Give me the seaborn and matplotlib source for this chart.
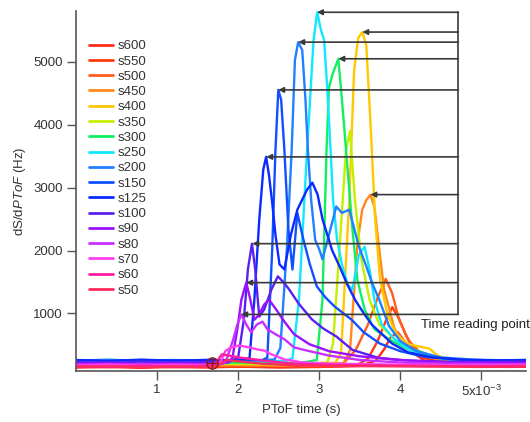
import numpy as np
import pandas as pd
import matplotlib
matplotlib.use("Agg")
import matplotlib.pyplot as plt
from matplotlib.lines import Line2D
import seaborn as sns

# series names, legend order (top -> bottom)
series = ['s600', 's550', 's500', 's450', 's400', 's350', 's300', 's250', 's200',
          's150', 's125', 's100', 's90', 's80', 's70', 's60', 's50']
colors = ['#ff2a1a', '#ff3c10', '#ff5c20', '#ff8a1a', '#ffc800', '#c4f000', '#10f060',
          '#10e8ff', '#2080ff', '#1050ff', '#0a2aff', '#5a20f0', '#9a10ff', '#c830ff',
          '#ff40f0', '#ff1aa0', '#ff2a60']

# PToF time in units of 1e-3 s, dS/dPToF in Hz
s600_t = [0, 0.4, 0.8, 1.2, 1.6, 2.0, 2.5, 3.0, 3.5, 3.7, 3.8, 3.88, 3.97, 4.05, 4.15, 4.3, 4.6, 5.0, 5.3, 5.55]
s600_v = [140, 150, 135, 150, 140, 155, 140, 150, 165, 250, 430, 620, 700, 560, 380, 250, 180, 160, 150, 155]

s550_t = [0, 0.4, 0.8, 1.2, 1.6, 2.0, 2.5, 3.0, 3.45, 3.6, 3.72, 3.82, 3.9, 3.98, 4.06, 4.16, 4.3, 4.5, 4.8, 5.2, 5.55]
s550_v = [155, 145, 160, 145, 155, 150, 160, 150, 170, 280, 560, 880, 1100, 930, 680, 440, 290, 220, 185, 170, 165]

s500_t = [0, 0.4, 0.8, 1.2, 1.6, 2.0, 2.5, 3.0, 3.3, 3.45, 3.6, 3.72, 3.82, 3.9, 3.98, 4.1, 4.25, 4.45, 4.7, 5.1, 5.55]
s500_v = [165, 175, 160, 170, 160, 175, 165, 170, 210, 420, 820, 1250, 1550, 1320, 920, 570, 370, 270, 215, 190, 185]

s450_t = [0, 0.4, 0.8, 1.2, 1.6, 2.0, 2.5, 3.0, 3.3, 3.38, 3.47, 3.53, 3.58, 3.63, 3.68, 3.74, 3.8,
          3.93, 4.1, 4.3, 4.5, 4.8, 5.2, 5.55]
s450_v = [175, 185, 170, 185, 175, 180, 170, 185, 210, 420, 2100, 2650, 2800, 2890, 2700, 2020, 1380,
          750, 450, 330, 260, 220, 200, 195]

s400_t = [0, 0.4, 0.8, 1.2, 1.6, 2.0, 2.5, 2.9, 3.2, 3.27, 3.37, 3.43, 3.48, 3.53, 3.58, 3.63, 3.69,
          3.75, 3.84, 3.95, 4.1, 4.25, 4.36, 4.46, 4.6, 4.9, 5.3, 5.55]
s400_v = [190, 200, 185, 200, 190, 195, 185, 200, 215, 380, 2800, 4870, 5380, 5475, 5270, 4080, 2490,
          1540, 985, 670, 510, 470, 440, 330, 270, 230, 210, 205]

s350_t = [0, 0.4, 0.8, 1.2, 1.6, 2.0, 2.5, 2.9, 3.1, 3.17, 3.25, 3.33, 3.38, 3.44, 3.52, 3.62, 3.74,
          3.93, 4.1, 4.3, 4.5, 4.8, 5.2, 5.55]
s350_v = [200, 210, 195, 210, 200, 205, 195, 210, 220, 520, 2020, 3600, 3900, 2800, 1860, 1220, 825,
          590, 430, 360, 280, 230, 215, 210]

s300_t = [0, 0.4, 0.8, 1.2, 1.6, 2.0, 2.5, 2.8, 2.97, 3.04, 3.09, 3.12, 3.16, 3.235, 3.28, 3.35, 3.41,
          3.47, 3.56, 3.68, 3.86, 4.05, 4.23, 4.45, 4.8, 5.2, 5.55]
s300_v = [215, 225, 210, 225, 215, 220, 210, 220, 260, 1220, 3600, 4590, 4790, 5050, 4400, 3290, 2330,
          1540, 1060, 750, 590, 460, 400, 300, 240, 225, 220]

s250_t = [0, 0.4, 0.8, 1.2, 1.6, 2.0, 2.4, 2.6, 2.67, 2.75, 2.85, 2.93, 2.975, 3.02, 3.06, 3.1, 3.14,
          3.17, 3.22, 3.28, 3.35, 3.41, 3.49, 3.56, 3.62, 3.68, 3.77, 3.93, 4.1, 4.3, 4.6, 5.0, 5.55]
s250_v = [235, 250, 230, 245, 235, 250, 240, 250, 290, 1220, 3600, 5350, 5790, 5510, 5350, 4555, 3600,
          2810, 2170, 1780, 1460, 1380, 1940, 2060, 1700, 1220, 825, 590, 430, 330, 270, 250, 245]

s200_t = [0, 0.4, 0.8, 1.2, 1.6, 2.0, 2.3, 2.45, 2.52, 2.6, 2.66, 2.7, 2.74, 2.79, 2.83, 2.86, 2.9,
          2.95, 3.0, 3.04, 3.13, 3.21, 3.28, 3.37, 3.49, 3.58, 3.65, 3.74, 3.86, 4.0, 4.2, 4.5, 4.9, 5.3, 5.55]
s200_v = [250, 265, 245, 260, 250, 265, 255, 270, 450, 2020, 3600, 5030, 5315, 5190, 4400, 3600, 2810,
          2170, 2020, 1860, 2300, 2700, 2600, 2650, 2060, 1750, 1490, 1220, 800, 560, 400, 300, 265, 255, 260]

s150_t = [0, 0.4, 0.8, 1.2, 1.6, 2.0, 2.3, 2.36, 2.42, 2.46, 2.495, 2.53, 2.57, 2.62, 2.67, 2.73, 2.8,
          2.88, 2.97, 3.08, 3.19, 3.3, 3.4, 3.55, 3.75, 4.0, 4.3, 4.7, 5.1, 5.55]
s150_v = [255, 240, 260, 245, 260, 250, 260, 300, 2020, 3600, 4555, 4400, 3600, 2330, 1700, 2600, 2200,
          1800, 1430, 1250, 1110, 1000, 900, 700, 520, 400, 310, 270, 255, 260]

s125_t = [0, 0.4, 0.8, 1.2, 1.6, 2.0, 2.14, 2.2, 2.26, 2.31, 2.345, 2.38, 2.42, 2.46, 2.51, 2.57, 2.65,
          2.73, 2.79, 2.85, 2.915, 2.98, 3.04, 3.1, 3.16, 3.25, 3.35, 3.45, 3.55, 3.65, 3.75, 3.9,
          4.1, 4.4, 4.8, 5.2, 5.55]
s125_v = [260, 245, 265, 250, 260, 250, 290, 1220, 2490, 3290, 3490, 3200, 2760, 2250, 1780, 1700, 2250,
          2650, 2810, 2970, 3080, 2890, 2500, 2250, 2000, 1750, 1450, 1200, 1000, 820, 700, 520,
          380, 300, 260, 255, 255]

s100_t = [0, 0.4, 0.8, 1.2, 1.6, 1.9, 2.0, 2.07, 2.12, 2.17, 2.21, 2.26, 2.32, 2.41, 2.49, 2.57, 2.63,
          2.75, 2.91, 3.05, 3.21, 3.41, 3.74, 4.1, 4.5, 5.0, 5.55]
s100_v = [230, 215, 235, 220, 230, 235, 300, 900, 1700, 2110, 1700, 950, 1060, 1380, 1590, 1480, 1380,
          1150, 905, 760, 635, 420, 290, 250, 235, 230, 235]

s90_t = [0, 0.4, 0.8, 1.2, 1.6, 1.88, 1.93, 1.99, 2.04, 2.1, 2.15, 2.2, 2.26, 2.32, 2.38, 2.47, 2.57,
         2.69, 2.88, 3.12, 3.49, 4.0, 4.6, 5.55]
s90_v = [200, 215, 195, 210, 200, 220, 300, 750, 1220, 1490, 1220, 900, 985, 1140, 1220, 1060, 870,
         670, 510, 400, 320, 260, 220, 210]

s80_t = [0, 0.4, 0.8, 1.2, 1.6, 1.82, 1.86, 1.94, 1.99, 2.04, 2.1, 2.16, 2.23, 2.3, 2.36, 2.46, 2.57,
         2.69, 2.88, 3.12, 3.5, 4.0, 4.6, 5.55]
s80_v = [190, 175, 195, 180, 190, 200, 280, 590, 825, 985, 825, 700, 825, 870, 750, 670, 590,
         460, 400, 330, 260, 220, 200, 195]

s70_t = [0, 0.4, 0.8, 1.2, 1.6, 1.75, 1.79, 1.84, 1.91, 2.01, 2.14, 2.23, 2.32, 2.41, 2.57, 2.8, 3.2,
         3.8, 4.4, 5.0, 5.55]
s70_v = [175, 190, 170, 185, 175, 190, 240, 400, 460, 490, 460, 430, 410, 350, 270, 220, 200,
         190, 180, 175, 180]

s60_t = [0, 0.4, 0.8, 1.2, 1.6, 1.7, 1.74, 1.8, 1.89, 2.01, 2.2, 2.38, 2.7, 3.2, 3.8, 4.4, 5.0, 5.55]
s60_v = [165, 150, 170, 155, 165, 175, 240, 350, 330, 300, 270, 240, 200, 180, 170, 165, 160, 165]

s50_t = [0, 0.4, 0.8, 1.2, 1.6, 1.75, 1.85, 2.0, 2.3, 2.7, 3.2, 3.8, 4.4, 5.0, 5.55]
s50_v = [150, 160, 145, 160, 150, 165, 260, 240, 200, 175, 165, 160, 155, 150, 155]

curves = {
    's600': (s600_t, s600_v), 's550': (s550_t, s550_v), 's500': (s500_t, s500_v),
    's450': (s450_t, s450_v), 's400': (s400_t, s400_v), 's350': (s350_t, s350_v),
    's300': (s300_t, s300_v), 's250': (s250_t, s250_v), 's200': (s200_t, s200_v),
    's150': (s150_t, s150_v), 's125': (s125_t, s125_v), 's100': (s100_t, s100_v),
    's90': (s90_t, s90_v), 's80': (s80_t, s80_v), 's70': (s70_t, s70_v),
    's60': (s60_t, s60_v), 's50': (s50_t, s50_v),
}

# time reading points (arrow tips)
arrow_t = [2.972, 3.53, 2.74, 3.235, 2.494, 2.346, 3.63, 2.173, 2.099, 2.037]
arrow_v = [5790, 5475, 5315, 5050, 4555, 3490, 2890, 2110, 1490, 985]
bracket_t = 4.716
cursor_t, cursor_v = 1.68, 220

xticks = [1, 2, 3, 4, 5]
xticklabels = ['1', '2', '3', '4', r'5x10$^{-3}$']
yticks = [1000, 2000, 3000, 4000, 5000]

rows = []
for name in series:
    t, v = curves[name]
    for i, (ti, vi) in enumerate(zip(t, v)):
        rows.append((name, i, ti, vi))
df = pd.DataFrame(rows, columns=['series', 'idx', 't', 'v'])

sns.set_style('ticks')
plt.rcParams['font.family'] = ['Liberation Sans', 'DejaVu Sans']
plt.rcParams['mathtext.fontset'] = 'custom'
plt.rcParams['mathtext.rm'] = 'Liberation Sans'
plt.rcParams['mathtext.it'] = 'Liberation Sans:italic'

fig = plt.figure(figsize=(5.3, 4.22), dpi=100)
ax = fig.add_axes([76 / 530, 51 / 422, 450 / 530, 360 / 422])

palette = dict(zip(series, colors))
sns.lineplot(data=df, x='t', y='v', hue='series', hue_order=series, palette=palette,
             estimator=None, sort=False, linewidth=1.7, legend=False, ax=ax)

# arrows to time reading points
gray = '#3a3a3a'
ax.plot([bracket_t, bracket_t], [min(arrow_v), max(arrow_v)], color=gray, lw=1.2, zorder=5)
for t, v in zip(arrow_t, arrow_v):
    ax.annotate('', xy=(t, v), xytext=(bracket_t, v),
                arrowprops=dict(arrowstyle='-|>', color=gray, lw=1.2, mutation_scale=8,
                                shrinkA=0, shrinkB=0, facecolor='black'),
                zorder=6)
ax.text(4.25, 810, 'Time reading point', fontsize=9.5, color='#222222', va='center', ha='left')

# cursor marker
ax.plot([cursor_t], [cursor_v], marker='o', ms=8, mfc='none', mec='#8b1a1a', mew=1, zorder=7)
ax.plot([cursor_t], [cursor_v], marker='+', ms=8, mec='#8b1a1a', mew=1, zorder=7)

ax.set_xlim(0, 5.55)
ax.set_ylim(85, 5810)
ax.set_xticks(xticks)
ax.set_xticklabels(xticklabels)
ax.set_yticks(yticks)
sns.despine(ax=ax)
for s in ['left', 'bottom']:
    ax.spines[s].set_color('#555555')
    ax.spines[s].set_linewidth(1.2)
ax.tick_params(axis='both', direction='out', length=6.5, width=1, color='#555555',
               labelsize=9.5, labelcolor='#333333', pad=3)
ax.set_xlabel('PToF time (s)', fontsize=9.5, color='#333333', labelpad=3)
ax.set_ylabel(r'dS/d$\it{PToF}$ (Hz)', fontsize=9.5, color='#333333', labelpad=4)

handles = [Line2D([0], [0], color=c, lw=2) for c in colors]
ax.legend(handles, series, loc='upper left', bbox_to_anchor=(13 / 450, 331 / 360),
          frameon=False, fontsize=9.5, handlelength=1.8, handletextpad=0.4,
          labelspacing=0.23, borderpad=0, borderaxespad=0, labelcolor='#333333')

fig.savefig('out.png', dpi=100)
